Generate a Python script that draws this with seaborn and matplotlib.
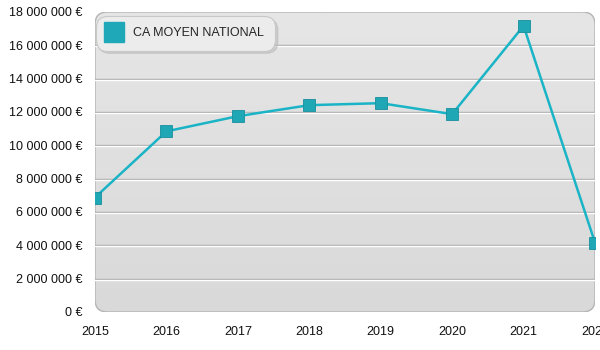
import numpy as np
import pandas as pd
import matplotlib
matplotlib.use("Agg")
import matplotlib.pyplot as plt
import matplotlib.transforms as mtransforms
from matplotlib.patches import FancyBboxPatch
from matplotlib.lines import Line2D
from matplotlib.ticker import FuncFormatter
import seaborn as sns

years = [2015, 2016, 2017, 2018, 2019, 2020, 2021, 2022]
ca_moyen = [6870000, 10840000, 11750000, 12410000, 12530000, 11870000, 17170000, 4160000]
series_name = "CA MOYEN NATIONAL"
y_ticks = [0, 2000000, 4000000, 6000000, 8000000, 10000000, 12000000, 14000000, 16000000, 18000000]

df = pd.DataFrame({"annee": years, "ca": ca_moyen})

sns.set_theme(style="white")
plt.rcParams["font.family"] = ["Liberation Sans", "DejaVu Sans"]

fig = plt.figure(figsize=(6, 3.5), dpi=100)
ax = fig.add_axes([95 / 600, 38 / 350, 500 / 600, 300 / 350])
ax.patch.set_visible(False)
for s in ax.spines.values():
    s.set_visible(False)

# rounded plot panel with a soft vertical gradient
panel = FancyBboxPatch((0, 0), 1, 1, boxstyle="round,pad=0,rounding_size=0.025",
                       transform=ax.transAxes, facecolor="none",
                       edgecolor="#b4b4b4", linewidth=1.0, zorder=0.5,
                       mutation_aspect=500 / 300)
ax.add_patch(panel)
grad = np.linspace(0, 1, 256).reshape(-1, 1)
img = ax.imshow(grad, extent=[0, 1, 0, 1], transform=ax.transAxes, aspect="auto",
                cmap=matplotlib.colors.LinearSegmentedColormap.from_list(
                    "bg", ["#d9d9d9", "#e6e6e6"]),
                origin="lower", zorder=0.2)
img.set_clip_path(panel)

# horizontal grid: grey line with a white highlight just beneath
for v in y_ticks[1:-1]:
    ax.axhline(v, color="#a9a9a9", linewidth=1.0, zorder=1)
    off = mtransforms.offset_copy(ax.get_yaxis_transform(), fig=fig, x=0, y=-1.0, units="dots")
    ax.plot([0, 1], [v, v], transform=off, color="white", linewidth=1.0, zorder=1)

sns.lineplot(data=df, x="annee", y="ca", ax=ax, color="#1ab4c6", linewidth=1.8,
             marker="s", markersize=8.5, markerfacecolor="#1fa7b6",
             markeredgecolor="#178f9c", markeredgewidth=0.6, zorder=3)

ax.set_xlim(2015, 2022)
ax.set_ylim(0, 18000000)
ax.set_yticks(y_ticks)
ax.set_xticks(years)
ax.yaxis.set_major_formatter(FuncFormatter(lambda v, p: f"{int(v):,} €".replace(",", " ")))
ax.tick_params(axis="both", length=0, labelsize=9, colors="#111111")
ax.tick_params(axis="y", pad=9)
ax.tick_params(axis="x", pad=10)
ax.set_xlabel("")
ax.set_ylabel("")

# legend box
handle = Line2D([], [], linestyle="none", marker="s", markersize=14,
                markerfacecolor="#1fa9b8", markeredgecolor="#1fa9b8")
leg = ax.legend([handle], [series_name], loc="upper left", bbox_to_anchor=(-0.004, 0.995),
                frameon=True, fancybox=True, shadow={"color": "#bbbbbb", "alpha": 0.6},
                facecolor="#ececec", edgecolor="#c8c8c8", fontsize=9,
                handlelength=1.2, handletextpad=0.9, borderpad=0.9, borderaxespad=0.2)
leg.get_frame().set_linewidth(0.8)
leg.get_frame().set_boxstyle("round,pad=0,rounding_size=0.9")
leg.set_zorder(5)

fig.savefig("out.png", dpi=100)
